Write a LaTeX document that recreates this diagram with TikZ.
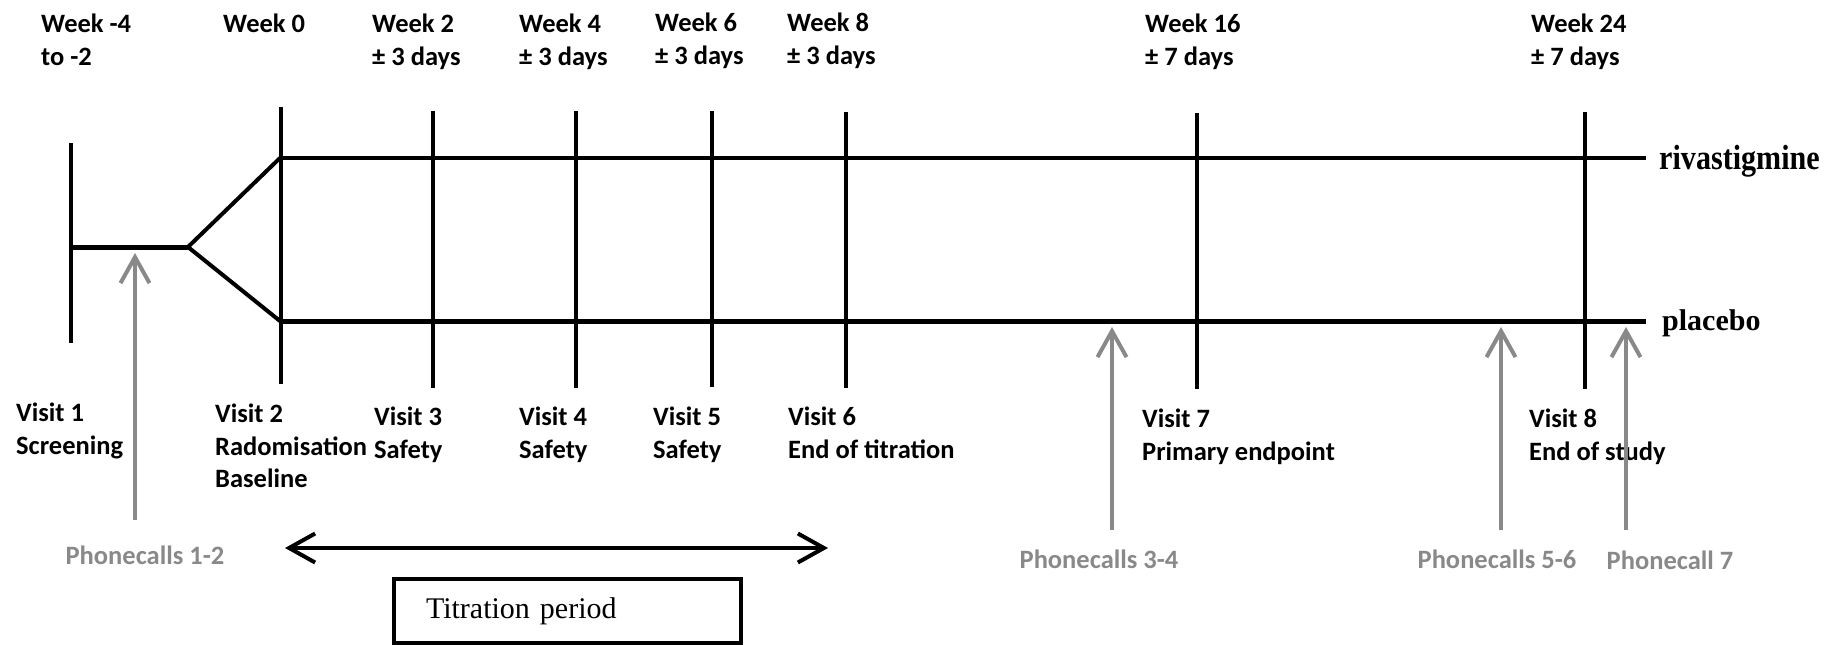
\documentclass[tikz,border=0pt]{standalone}
\usepackage{fontspec}
\setmainfont{Carlito}
\newfontfamily\timesf{Liberation Serif}
\usetikzlibrary{arrows.meta}
\definecolor{phgray}{RGB}{137,137,137}
\begin{document}
\begin{tikzpicture}[x=1pt,y=-1pt,
  lbl/.style={font=\fontsize{26.5}{32.5}\selectfont\bfseries, anchor=north west, inner sep=0pt, align=left},
  ph/.style={font=\fontsize{26.5}{32}\selectfont\bfseries, text=phgray, inner sep=0pt, anchor=center},
  arm/.style={font=\timesf\bfseries\fontsize{30}{34}\selectfont, inner sep=0pt, anchor=base west},
  tick/.style={line width=4pt},
  thinarm/.style={line width=3.5pt},
  thickarm/.style={line width=5pt},
  phonearrow/.style={draw=phgray, line width=4pt, -{Straight Barb[length=26pt,width=29pt]}},
  titarrow/.style={draw=black, line width=4pt, {Straight Barb[length=26pt,width=29pt]}-{Straight Barb[length=26pt,width=29pt]}},
]
\useasboundingbox (0,0) rectangle (1839,645);

% week labels
\node[lbl] (w1) at (41,14) {Week -4\\to -2};
\node[lbl] (w2) at (223,14) {Week 0};
\node[lbl] (w3) at (372,14) {Week 2\\± 3 days};
\node[lbl] (w4) at (519,14) {Week 4\\± 3 days};
\node[lbl] (w5) at (655,13) {Week 6\\± 3 days};
\node[lbl] (w6) at (787,13) {Week 8\\± 3 days};
\node[lbl] (w7) at (1145,14) {Week 16\\± 7 days};
\node[lbl] (w8) at (1531,14) {Week 24\\± 7 days};

% visit labels
\node[lbl] (v1) at (16,403) {Visit 1\\Screening};
\node[lbl] (v2) at (215,404) {Visit 2\\Radomisation\\Baseline};
\node[lbl] (v3) at (374,407) {Visit 3\\Safety};
\node[lbl] (v4) at (519,407) {Visit 4\\Safety};
\node[lbl] (v5) at (653,407) {Visit 5\\Safety};
\node[lbl] (v6) at (788,407) {Visit 6\\End of titration};
\node[lbl] (v7) at (1142,409) {Visit 7\\Primary endpoint};
\node[lbl] (v8) at (1529,409) {Visit 8\\End of study};

% arm labels
\node[arm, font=\timesf\bfseries\fontsize{35}{38}\selectfont] (riva) at (1659,169) {\scalebox{0.86}[1]{rivastigmine}};
\node[arm] (plac) at (1662,330) {placebo};

% phone call labels
\node[ph] (p1) at (145,555) {Phonecalls 1-2};
\node[ph] (p2) at (1099,559) {Phonecalls 3-4};
\node[ph] (p3) at (1497,559) {Phonecalls 5-6};
\node[ph] (p4) at (1670,560) {Phonecall 7};

% titration box
\node[draw, line width=4pt, minimum height=64pt, inner xsep=32pt, text width=283pt, align=left,
      font=\timesf\fontsize{30}{34}\selectfont, anchor=west] (tbox) at (392,611) {Titration period};

% coordinates
\coordinate (scrT) at (71,143);
\coordinate (scrB) at (71,343);
\coordinate (scrM) at (71,247);
\coordinate (split) at (188,247);
\coordinate (rivS) at (280,158);
\coordinate (rivE) at (1646,158);
\coordinate (plaS) at (280,321);
\coordinate (plaE) at (1646,321);

\coordinate (t0T) at (281,107);  \coordinate (t0B) at (281,384);
\coordinate (t2T) at (433,111);  \coordinate (t2B) at (433,388);
\coordinate (t4T) at (576,111);  \coordinate (t4B) at (576,388);
\coordinate (t6T) at (712,111);  \coordinate (t6B) at (712,387);
\coordinate (t8T) at (846,112);  \coordinate (t8B) at (846,388);
\coordinate (t16T) at (1197,113); \coordinate (t16B) at (1197,389);
\coordinate (t24T) at (1585,112); \coordinate (t24B) at (1585,389);

\coordinate (a1B) at (135,520);  \coordinate (a1T) at (135,253);
\coordinate (a2B) at (1112,530); \coordinate (a2T) at (1112,327);
\coordinate (a3B) at (1501,530); \coordinate (a3T) at (1501,327);
\coordinate (a4B) at (1626,530); \coordinate (a4T) at (1626,327);

\coordinate (titL) at (285,548);
\coordinate (titR) at (828,548);

% timeline
\draw[tick] (scrT) -- (scrB);
\draw[thickarm] (scrM) -- (split);
\draw[tick] (split) -- (rivS);
\draw[tick] (split) -- (plaS);
\draw[thinarm] (rivS) -- (rivE);
\draw[thickarm] (plaS) -- (plaE);
\draw[tick] (t0T) -- (t0B);
\draw[tick] (t2T) -- (t2B);
\draw[tick] (t4T) -- (t4B);
\draw[tick] (t6T) -- (t6B);
\draw[tick] (t8T) -- (t8B);
\draw[tick] (t16T) -- (t16B);
\draw[tick] (t24T) -- (t24B);

% phone call arrows
\draw[phonearrow] (a1B) -- (a1T);
\draw[phonearrow] (a2B) -- (a2T);
\draw[phonearrow] (a3B) -- (a3T);
\draw[phonearrow] (a4B) -- (a4T);

% titration arrow
\draw[titarrow] (titL) -- (titR);
\end{tikzpicture}
\end{document}
